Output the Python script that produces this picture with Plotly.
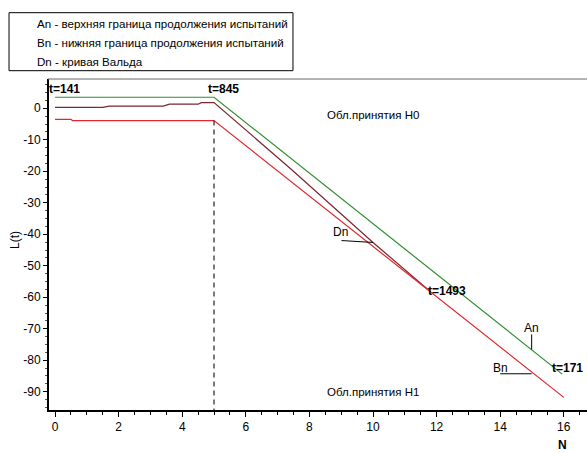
import plotly.graph_objects as go

# ---- data ----
an_x = [0.0, 5.0, 15.95]
an_y = [3.5, 3.5, -84.4]

bn_x = [0.0, 0.5, 0.55, 5.0, 16.0]
bn_y = [-3.5, -3.5, -3.9, -3.9, -91.8]

dn_x = [0.0, 1.5, 1.7, 3.4, 3.6, 4.5, 4.6, 5.0, 7.4, 10.0, 11.8]
dn_y = [0.3, 0.3, 0.7, 0.7, 1.3, 1.3, 1.8, 1.8, -19.1, -42.6, -58.2]

x_ticks = [0, 2, 4, 6, 8, 10, 12, 14, 16]
x_tick_text = ["0", "2", "4", "6", "8", "10", "12", "14", "16"]
y_ticks = [0, -10, -20, -30, -40, -50, -60, -70, -80, -90]
y_tick_text = ["0", "-10", "-20", "-30", "-40", "-50", "-60", "-70", "-80", "-90"]

x_range = [-0.19, 16.73]
y_range = [-95.8, 9.3]

dash_x = 5.0
dash_y_top = -3.9

legend_lines = [
    "Аn - верхняя граница продолжения испытаний",
    "Вn - нижняя граница продолжения испытаний",
    "Dn - кривая Вальда",
]

# bold point labels: (text, x, y, anchor)
point_labels = [
    ("t=141", 0.31, 6.1, "center"),
    ("t=845", 5.31, 6.1, "center"),
    ("t=1493", 12.32, -58.1, "center"),
    ("t=171", 16.68, -82.6, "right"),
]
# plain labels: (text, x, y, size)
plain_labels = [
    ("Обл.принятия H0", 10.0, -2.1, 11.5),
    ("Обл.принятия H1", 10.0, -90.0, 11.5),
    ("Dn", 8.99, -39.3, 12),
    ("An", 15.0, -69.8, 12),
    ("Bn", 14.02, -82.5, 12),
]
# leader lines: (x0, y0, x1, y1)
leaders = [
    (9.01, -42.0, 10.0, -42.6),
    (14.99, -71.8, 14.99, -76.6),
    (14.0, -84.3, 14.99, -84.3),
]

FONT = "Liberation Sans, Arial, sans-serif"

fig = go.Figure()
fig.add_trace(go.Scatter(x=an_x, y=an_y, mode="lines",
                         line=dict(color="#2f8f2f", width=1.2), hoverinfo="skip"))
fig.add_trace(go.Scatter(x=dn_x, y=dn_y, mode="lines",
                         line=dict(color="#7b2630", width=1.2), hoverinfo="skip"))
fig.add_trace(go.Scatter(x=bn_x, y=bn_y, mode="lines",
                         line=dict(color="#e3262e", width=1.2), hoverinfo="skip"))

shapes = []
shapes.append(dict(type="line", xref="x", yref="y", x0=dash_x, x1=dash_x,
                   y0=dash_y_top, y1=y_range[0],
                   line=dict(color="#333333", width=1.3, dash="5px,4px")))
for (x0, y0, x1, y1) in leaders:
    shapes.append(dict(type="line", xref="x", yref="y", x0=x0, y0=y0, x1=x1, y1=y1,
                       line=dict(color="black", width=1)))
shapes.append(dict(type="line", xref="paper", yref="paper", x0=-0.002, x1=1.0,
                   y0=1.0, y1=1.0, line=dict(color="#666666", width=1)))
shapes.append(dict(type="rect", xref="paper", yref="paper",
                   x0=-0.0743, x1=0.4535, y0=1.0251, y1=1.2003,
                   line=dict(color="black", width=1), fillcolor="white"))

annotations = []
leg_y = [1.1662, 1.1088, 1.0514]
for txt, yy in zip(legend_lines, leg_y):
    annotations.append(dict(text=txt, xref="paper", yref="paper", x=-0.026, y=yy,
                            xanchor="left", yanchor="middle", showarrow=False,
                            font=dict(family=FONT, size=11.6, color="black")))
for txt, xx, yy, anc in point_labels:
    annotations.append(dict(text="<b>%s</b>" % txt, xref="x", yref="y", x=xx, y=yy,
                            xanchor=anc, yanchor="middle", showarrow=False,
                            font=dict(family=FONT, size=12, color="black")))
for txt, xx, yy, sz in plain_labels:
    annotations.append(dict(text=txt, xref="x", yref="y", x=xx, y=yy,
                            xanchor="center", yanchor="middle", showarrow=False,
                            font=dict(family=FONT, size=sz, color="black")))
annotations.append(dict(text="<b>N</b>", xref="x", yref="paper", x=15.97, y=-0.106,
                        xanchor="center", yanchor="middle", showarrow=False,
                        font=dict(family=FONT, size=12, color="black")))
annotations.append(dict(text="L(t)", xref="paper", yref="paper", x=-0.063, y=0.514,
                        xanchor="center", yanchor="middle", showarrow=False, textangle=-90,
                        font=dict(family=FONT, size=12, color="black")))

fig.update_layout(
    width=587, height=453,
    margin=dict(l=49, r=0, t=79, b=43),
    paper_bgcolor="white", plot_bgcolor="white",
    showlegend=False,
    shapes=shapes, annotations=annotations,
    font=dict(family=FONT, size=12, color="black"),
)
fig.update_xaxes(range=x_range, tickvals=x_ticks, ticktext=x_tick_text,
                 ticks="outside", ticklen=5, tickwidth=1, tickcolor="black",
                 minor=dict(dtick=0.5, tick0=0, ticks="outside", ticklen=3, tickcolor="black"),
                 showline=True, linewidth=2, linecolor="black",
                 showgrid=False, zeroline=False,
                 tickfont=dict(family=FONT, size=12))
fig.update_yaxes(range=y_range, tickvals=y_ticks, ticktext=y_tick_text,
                 ticks="outside", ticklen=4, tickwidth=1, tickcolor="black",
                 minor=dict(dtick=2.5, tick0=0, ticks="outside", ticklen=2, tickcolor="#555555"),
                 showline=True, linewidth=2, linecolor="black",
                 showgrid=False, zeroline=False,
                 tickfont=dict(family=FONT, size=12))

fig.write_html("out.html", config={"displayModeBar": False},
               post_script="document.body.style.margin='0';document.body.style.padding='0';")
